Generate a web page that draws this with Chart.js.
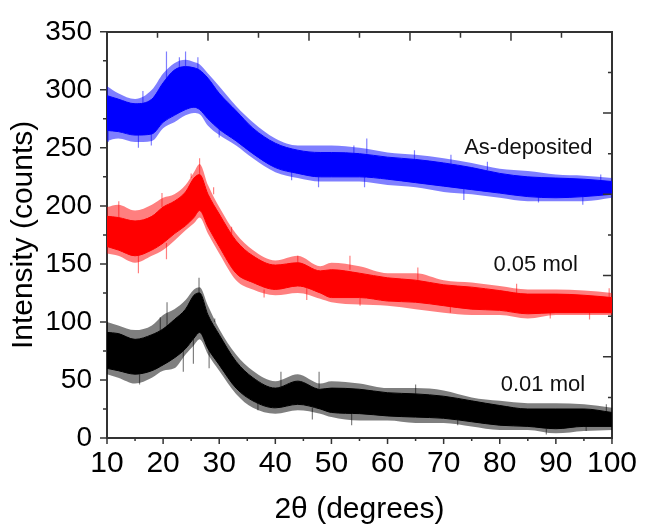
<!DOCTYPE html>
<html>
<head>
<meta charset="utf-8">
<script src="https://cdn.jsdelivr.net/npm/chart.js@4.4.0/dist/chart.umd.min.js"></script>
<style>
  html, body { margin: 0; padding: 0; background: #fff; }
  #wrap { width: 645px; height: 525px; position: relative; }
</style>
</head>
<body>
<div id="wrap"><canvas id="xrd"></canvas></div>
<script>
// 2theta sample positions (degrees)
const twoTheta = [10, 12, 15, 18, 20, 22, 24, 25.5, 26.5, 28, 30, 33, 36, 40, 44, 48, 50, 55, 60, 65, 70, 75, 80, 85, 90, 95, 100];

// As-deposited (blue): noise envelope and dense core
const blueOuterHigh = [303, 297, 292, 300, 314, 323, 326, 324, 322, 314, 303, 286, 272, 258, 252, 252, 252, 250, 246, 244, 241, 237, 232, 230, 227, 226, 224];
const blueOuterLow  = [256, 258, 255, 256, 267, 272, 278, 280, 279, 269, 261, 252, 241, 229, 224, 221, 221, 221, 218, 216, 212, 210, 207, 204, 204, 204, 207];
const blueCoreHigh  = [295, 292, 288, 292, 306, 317, 320, 319, 317, 310, 297, 282, 267, 254, 248, 246, 246, 245, 242, 240, 237, 233, 228, 225, 224, 223, 221];
const blueCoreLow   = [265, 264, 261, 262, 272, 278, 283, 285, 283, 275, 266, 256, 245, 233, 228, 225, 225, 225, 223, 220, 217, 214, 211, 208, 207, 208, 210];

// 0.05 mol (red)
const redOuterHigh = [199, 201, 196, 201, 207, 210, 218, 229, 236, 218, 199, 176, 162, 153, 157, 148, 151, 148, 142, 142, 136, 134, 131, 128, 128, 127, 125];
const redOuterLow  = [159, 157, 151, 157, 162, 170, 179, 185, 190, 176, 159, 136, 128, 123, 125, 120, 117, 115, 114, 111, 108, 106, 106, 103, 106, 106, 106];
const redCoreHigh  = [191, 190, 187, 191, 199, 204, 212, 224, 227, 210, 193, 170, 157, 149, 151, 144, 145, 142, 138, 136, 132, 130, 127, 124, 124, 123, 121];
const redCoreLow   = [165, 162, 157, 162, 168, 176, 183, 190, 196, 182, 165, 142, 134, 128, 131, 125, 121, 121, 118, 117, 114, 111, 110, 107, 108, 108, 108];

// 0.01 mol (black)
const blackOuterHigh = [100, 97, 93, 97, 106, 111, 119, 128, 130, 114, 94, 72, 58, 49, 55, 47, 49, 47, 43, 43, 41, 35, 32, 30, 30, 29, 26];
const blackOuterLow  = [55, 52, 47, 52, 58, 60, 72, 80, 85, 72, 58, 38, 26, 21, 24, 21, 18, 15, 15, 13, 13, 10, 7, 7, 4, 6, 7];
const blackCoreHigh  = [91, 90, 85, 89, 94, 102, 111, 123, 125, 106, 89, 66, 52, 43, 49, 42, 43, 42, 39, 38, 36, 32, 28, 25, 25, 25, 22];
const blackCoreLow   = [60, 58, 55, 58, 63, 69, 77, 86, 91, 77, 63, 43, 32, 26, 29, 25, 22, 21, 19, 18, 17, 14, 11, 10, 8, 10, 10];

// single spikes: position, from, to
const blueSpikeX    = [10.2, 15.6, 16.4, 17.9, 20.6, 22.9, 24, 26.2, 30, 42.9, 47.7, 54, 55.9, 56.3, 64.8, 71.3, 73.6, 77.8, 86.9, 94.8, 98];
const blueSpikeFrom = [265, 261, 288, 262, 306, 312, 320, 317, 266, 230, 225, 245, 225, 245, 240, 236, 215, 231, 208, 208, 222];
const blueSpikeTo   = [255, 250, 299, 252, 333, 328, 333, 328, 259, 222, 216, 252, 216, 258, 248, 244, 205, 238, 203, 201, 227];
const redSpikeX    = [12.1, 15.6, 19.8, 20.6, 25, 26.5, 29, 32.2, 38, 44, 45.6, 53.3, 55.1, 65.4, 71.2, 83, 89, 96, 99.5];
const redSpikeFrom = [190, 157, 199, 168, 224, 227, 210, 175, 128, 151, 131, 145, 121, 136, 114, 124, 108, 108, 121];
const redSpikeTo   = [204, 142, 211, 154, 228, 241, 216, 182, 121, 157, 119, 157, 114, 147, 108, 133, 103, 102, 129];
const blackSpikeX    = [15.8, 19.5, 20.7, 23.6, 25.4, 26.4, 28.2, 29.2, 36.9, 41, 46.6, 47.8, 53.6, 65, 72.5, 88.3, 95.4, 99];
const blackSpikeFrom = [55, 92, 96, 77, 86, 125, 77, 100, 32, 43, 26, 43, 21, 38, 17, 8, 10, 22];
const blackSpikeTo   = [46, 104, 117, 57, 64, 138, 60, 103, 24, 57, 16, 57, 11, 46, 11, 3, 6, 29];

// series labels and where they sit (data units)
const seriesNames = ['As-deposited', '0.05 mol', '0.01 mol'];
const nameAtX = [85.1, 86.4, 87.7];
const nameAtY = [244.6, 144.2, 40.2];

// ticks
const xMajorTicks = [10, 20, 30, 40, 50, 60, 70, 80, 90, 100];
const xMinorTicks = [15, 25, 35, 45, 55, 65, 75, 85, 95];
const topMajorTicks = [10, 28, 46, 64, 82, 100];
const topMinorTicks = [19, 37, 55, 73, 91];
const yMajorTicks = [0, 50, 100, 150, 200, 250, 300, 350];
const yMinorTicks = [25, 75, 125, 175, 225, 275, 325];
const rightMajorTicks = [0, 70, 140, 210, 280, 350];
const rightMinorTicks = [35, 105, 175, 245, 315];

const FONT = '"Liberation Sans", Arial, Helvetica, sans-serif';

const pts = ys => twoTheta.map((x, i) => ({ x, y: ys[i] }));
const spikePts = (xs, from, to) => xs.flatMap((x, i) => [{ x, y: from[i] }, { x, y: to[i] }, { x, y: null }]);

function seriesSets(outerLow, outerHigh, coreLow, coreHigh, spikes, solid, faint) {
  const base = { pointRadius: 0, cubicInterpolationMode: 'monotone', spanGaps: false };
  return [
    { ...base, data: pts(outerLow), borderColor: 'transparent', borderWidth: 1, fill: false },
    { ...base, data: pts(outerHigh), borderColor: 'transparent', borderWidth: 1, fill: '-1', backgroundColor: faint },
    { ...base, data: pts(coreLow), borderColor: solid, borderWidth: 1, fill: false },
    { ...base, data: pts(coreHigh), borderColor: solid, borderWidth: 1, fill: '-1', backgroundColor: solid },
    { pointRadius: 0, tension: 0, spanGaps: false, data: spikes, borderColor: faint, borderWidth: 1.2, fill: false }
  ];
}

const datasets = [
  ...seriesSets(blueOuterLow, blueOuterHigh, blueCoreLow, blueCoreHigh,
    spikePts(blueSpikeX, blueSpikeFrom, blueSpikeTo), '#0000ff', 'rgba(0,0,255,0.5)'),
  ...seriesSets(redOuterLow, redOuterHigh, redCoreLow, redCoreHigh,
    spikePts(redSpikeX, redSpikeFrom, redSpikeTo), '#ff0000', 'rgba(255,0,0,0.5)'),
  ...seriesSets(blackOuterLow, blackOuterHigh, blackCoreLow, blackCoreHigh,
    spikePts(blackSpikeX, blackSpikeFrom, blackSpikeTo), '#000000', 'rgba(0,0,0,0.5)')
];

const tickMarks = {
  id: 'tickMarks',
  afterDraw(chart) {
    const { ctx, chartArea: area } = chart;
    const { x, y } = chart.scales;
    ctx.save();
    ctx.strokeStyle = '#333';
    ctx.lineWidth = 1.5;
    ctx.beginPath();
    const vTick = (v, y0, len) => { const p = x.getPixelForValue(v); ctx.moveTo(p, y0); ctx.lineTo(p, y0 + len); };
    const hTick = (v, x0, len) => { const p = y.getPixelForValue(v); ctx.moveTo(x0, p); ctx.lineTo(x0 + len, p); };
    xMajorTicks.forEach(v => vTick(v, area.bottom, 6));
    xMinorTicks.forEach(v => vTick(v, area.bottom, 3));
    topMajorTicks.forEach(v => vTick(v, area.top, 9));
    topMinorTicks.forEach(v => vTick(v, area.top, 6));
    yMajorTicks.forEach(v => hTick(v, area.left, -7));
    yMinorTicks.forEach(v => hTick(v, area.left, -4));
    rightMajorTicks.forEach(v => hTick(v, area.right, -9));
    rightMinorTicks.forEach(v => hTick(v, area.right, -4));
    ctx.stroke();

    ctx.fillStyle = '#111';
    ctx.font = '22px ' + FONT;
    ctx.textAlign = 'center';
    ctx.textBaseline = 'alphabetic';
    seriesNames.forEach((t, i) => ctx.fillText(t, x.getPixelForValue(nameAtX[i]), y.getPixelForValue(nameAtY[i])));
    ctx.restore();
  }
};

const edge = { display: true, color: '#333', width: 2 };
const noGrid = { drawOnChartArea: false, drawTicks: false };

new Chart(document.getElementById('xrd'), {
  type: 'line',
  data: { datasets },
  options: {
    responsive: true,
    maintainAspectRatio: false,
    animation: false,
    layout: { padding: 0 },
    plugins: { legend: { display: false }, tooltip: { enabled: false } },
    scales: {
      x: {
        type: 'linear', position: 'bottom', min: 10, max: 100,
        ticks: { stepSize: 10, font: { family: FONT, size: 30 }, color: '#000', padding: 8, maxRotation: 0, autoSkip: false },
        grid: noGrid, border: edge,
        title: { display: true, text: '2θ (degrees)', color: '#000', font: { family: FONT, size: 30, lineHeight: 1 }, padding: { top: 0, bottom: 0 } },
        afterFit: s => { s.height = 87; }
      },
      x2: {
        type: 'linear', position: 'top', min: 10, max: 100,
        ticks: { display: false }, grid: noGrid, border: edge,
        afterFit: s => { s.height = 24; }
      },
      y: {
        type: 'linear', position: 'left', min: 0, max: 350,
        ticks: { stepSize: 50, font: { family: FONT, size: 28 }, color: '#000', padding: 15 },
        grid: noGrid, border: edge,
        title: { display: true, text: 'Intensity (counts)', color: '#000', font: { family: FONT, size: 30, lineHeight: 1.2 }, padding: { top: 6, bottom: 0 } },
        afterFit: s => { s.width = 107; }
      },
      y2: {
        type: 'linear', position: 'right', min: 0, max: 350,
        ticks: { display: false }, grid: noGrid, border: edge,
        afterFit: s => { s.width = 29; }
      }
    }
  },
  plugins: [tickMarks]
});
</script>
</body>
</html>
